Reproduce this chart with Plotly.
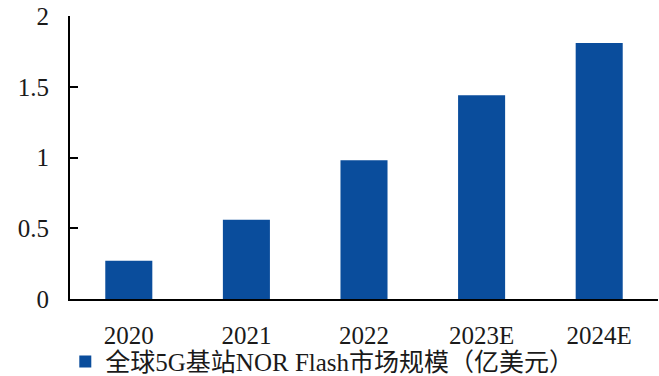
import plotly.graph_objects as go

# Global 5G base-station NOR Flash market size (100 million USD)
years = ["2020", "2021", "2022", "2023E", "2024E"]
market_size = [0.27, 0.56, 0.98, 1.44, 1.81]
y_ticks = [0, 0.5, 1, 1.5, 2]
y_tick_text = ["0", "0.5", "1", "1.5", "2"]
series_name = "全球5G基站NOR Flash市场规模（亿美元）"

bar_color = "#0A4D9C"
serif = "Liberation Serif, Times New Roman, Noto Sans CJK SC, serif"

fig = go.Figure(
    go.Bar(
        x=years,
        y=market_size,
        name=series_name,
        marker=dict(color=bar_color, line=dict(width=0)),
        showlegend=True,
    )
)

fig.update_layout(
    width=659,
    height=376,
    margin=dict(l=70, r=1, t=16, b=77, autoexpand=False),
    paper_bgcolor="white",
    plot_bgcolor="white",
    bargap=0.6,
    font=dict(family=serif, color="#1a1a1a", size=24),
    showlegend=True,
    legend=dict(
        orientation="h",
        x=-0.008,
        xanchor="left",
        y=-0.222,
        yanchor="middle",
        font=dict(size=25, family=serif, color="#1a1a1a"),
        itemwidth=30,
        bgcolor="rgba(0,0,0,0)",
    ),
)

fig.update_xaxes(
    showline=True,
    linecolor="black",
    linewidth=2,
    ticks="",
    showgrid=False,
    automargin=False,
    tickfont=dict(size=25, family=serif),
    ticklabelstandoff=13,
)

fig.update_yaxes(
    range=[0, 2],
    tickvals=y_ticks,
    ticktext=y_tick_text,
    showline=True,
    linecolor="black",
    linewidth=2,
    ticks="inside",
    ticklen=8,
    tickwidth=2,
    tickcolor="black",
    showgrid=False,
    zeroline=False,
    automargin=False,
    tickfont=dict(size=25, family=serif),
    ticklabelstandoff=14,
)

fig.write_html("out.html")
